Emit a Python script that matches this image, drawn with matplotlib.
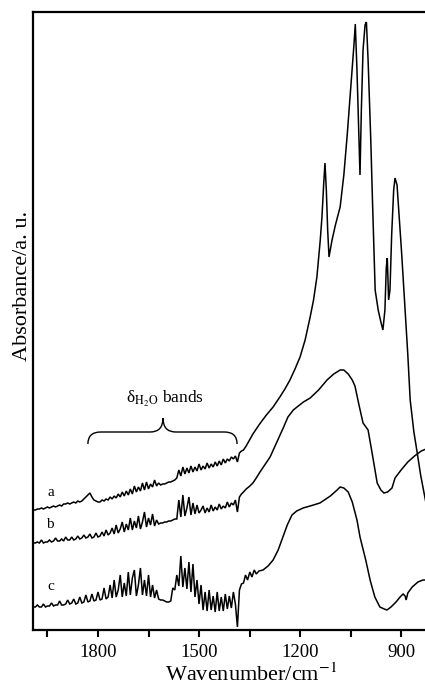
import numpy as np
import matplotlib
matplotlib.use("Agg")
import matplotlib.pyplot as plt
from matplotlib.path import Path
from matplotlib.patches import PathPatch

# ---------------- data ----------------
# sampling grid of the noisy (water-vapour) region, cm-1
wn_noisy = np.arange(1992, 1373, -6)

abs_a_noisy = [
    1.20, 1.20, 1.21, 1.21, 1.22, 1.21, 1.22, 1.23,
    1.22, 1.23, 1.24, 1.23, 1.24, 1.25, 1.24, 1.26,
    1.26, 1.27, 1.26, 1.27, 1.28, 1.27, 1.29, 1.28,
    1.29, 1.31, 1.33, 1.35, 1.37, 1.33, 1.30, 1.29,
    1.28, 1.28, 1.30, 1.29, 1.31, 1.30, 1.33, 1.31,
    1.34, 1.32, 1.36, 1.33, 1.38, 1.34, 1.39, 1.35,
    1.41, 1.36, 1.44, 1.38, 1.43, 1.39, 1.47, 1.40,
    1.48, 1.41, 1.46, 1.43, 1.50, 1.44, 1.47, 1.45,
    1.46, 1.46, 1.47, 1.48, 1.48, 1.49, 1.50, 1.52,
    1.60, 1.54, 1.63, 1.56, 1.62, 1.57, 1.64, 1.58,
    1.63, 1.59, 1.66, 1.60, 1.64, 1.61, 1.67, 1.62,
    1.66, 1.63, 1.68, 1.64, 1.69, 1.65, 1.71, 1.67,
    1.71, 1.69, 1.73, 1.71, 1.74, 1.68, 1.77, 1.79,
]
wn_a_tail = [1368, 1360, 1350, 1340, 1320, 1300, 1280, 1260, 1245, 1230,
             1215, 1200, 1185, 1170, 1160, 1150, 1140, 1135, 1130, 1126,
             1122, 1118, 1114, 1105, 1095, 1081, 1070, 1060, 1050, 1040,
             1036, 1031, 1026, 1022, 1018, 1013, 1007, 1003, 998, 990,
             985, 977, 968, 960, 954, 948, 944, 941, 937, 933,
             928, 922, 918, 912, 906, 898, 890, 880, 873, 862,
             852, 842, 832, 822]
abs_a_tail = [1.80, 1.84, 1.90, 1.96, 2.06, 2.15, 2.23, 2.33, 2.41, 2.50,
              2.61, 2.73, 2.90, 3.13, 3.30, 3.53, 3.90, 4.13, 4.45, 4.67,
              4.40, 4.00, 3.73, 3.90, 4.05, 4.23, 4.55, 4.95, 5.40, 5.85,
              6.06, 5.60, 5.00, 4.55, 5.20, 5.80, 6.05, 6.08, 5.70, 4.90,
              4.30, 3.40, 3.20, 3.08, 3.00, 3.20, 3.62, 3.72, 3.30, 3.40,
              3.95, 4.40, 4.52, 4.45, 4.15, 3.75, 3.30, 2.75, 2.30, 1.98,
              1.77, 1.55, 1.37, 1.20]

abs_b_noisy = [
    0.87, 0.87, 0.88, 0.87, 0.90, 0.87, 0.88, 0.88,
    0.90, 0.88, 0.89, 0.92, 0.89, 0.89, 0.91, 0.89,
    0.93, 0.90, 0.90, 0.93, 0.90, 0.91, 0.94, 0.91,
    0.92, 0.95, 0.92, 0.93, 0.96, 0.92, 0.93, 0.97,
    0.93, 0.94, 0.98, 0.94, 1.00, 0.95, 0.97, 1.02,
    0.96, 1.05, 0.97, 1.01, 1.08, 0.98, 1.06, 1.00,
    1.12, 1.00, 1.09, 1.02, 1.14, 1.01, 1.08, 1.18,
    1.03, 1.12, 1.05, 1.16, 1.04, 1.10, 1.06, 1.07,
    1.07, 1.08, 1.08, 1.09, 1.09, 1.10, 1.11, 1.11,
    1.30, 1.13, 1.35, 1.14, 1.22, 1.33, 1.15, 1.27,
    1.16, 1.25, 1.17, 1.20, 1.24, 1.17, 1.22, 1.18,
    1.25, 1.19, 1.23, 1.20, 1.26, 1.21, 1.24, 1.22,
    1.28, 1.23, 1.27, 1.25, 1.30, 1.18, 1.33, 1.36,
]
wn_b_tail = [1368, 1360, 1349, 1340, 1330, 1319, 1305, 1289, 1270, 1250,
             1236, 1220, 1209, 1190, 1170, 1145, 1120, 1100, 1081, 1070,
             1057, 1045, 1037, 1025, 1013, 998, 985, 971, 960, 951,
             940, 927, 918, 900, 880, 860, 840, 826]
abs_b_tail = [1.38, 1.41, 1.44, 1.47, 1.52, 1.58, 1.65, 1.73, 1.87, 2.02,
              2.13, 2.20, 2.23, 2.28, 2.32, 2.40, 2.50, 2.56, 2.60, 2.60,
              2.56, 2.50, 2.44, 2.25, 2.07, 2.00, 1.75, 1.47, 1.40, 1.37,
              1.38, 1.42, 1.52, 1.60, 1.68, 1.74, 1.79, 1.81]

abs_c_noisy = [
    0.23, 0.23, 0.25, 0.23, 0.23, 0.26, 0.23, 0.24,
    0.24, 0.27, 0.24, 0.25, 0.25, 0.29, 0.25, 0.25,
    0.26, 0.30, 0.26, 0.27, 0.31, 0.26, 0.27, 0.33,
    0.27, 0.28, 0.35, 0.28, 0.29, 0.36, 0.29, 0.30,
    0.38, 0.30, 0.31, 0.42, 0.31, 0.33, 0.45, 0.32,
    0.50, 0.33, 0.40, 0.55, 0.33, 0.47, 0.34, 0.58,
    0.35, 0.52, 0.60, 0.34, 0.45, 0.62, 0.35, 0.50,
    0.34, 0.55, 0.33, 0.45, 0.32, 0.40, 0.31, 0.30,
    0.30, 0.29, 0.28, 0.28, 0.29, 0.42, 0.40, 0.55,
    0.44, 0.74, 0.43, 0.62, 0.41, 0.68, 0.38, 0.66,
    0.33, 0.50, 0.26, 0.45, 0.20, 0.38, 0.19, 0.40,
    0.20, 0.34, 0.18, 0.38, 0.19, 0.33, 0.19, 0.36,
    0.21, 0.34, 0.22, 0.38, 0.26, 0.03, 0.40, 0.46,
]
wn_c_tail = [1368, 1362, 1356, 1349, 1343, 1336, 1330, 1322, 1310, 1295,
             1280, 1265, 1251, 1238, 1224, 1210, 1191, 1170, 1141, 1110,
             1090, 1081, 1070, 1057, 1045, 1031, 1022, 1005, 992, 978,
             963, 950, 942, 930, 915, 903, 894, 888, 885, 880,
             867, 850, 835, 826]
abs_c_tail = [0.47, 0.55, 0.50, 0.58, 0.53, 0.60, 0.56, 0.59, 0.60, 0.64,
              0.70, 0.80, 0.93, 1.05, 1.15, 1.19, 1.22, 1.24, 1.27, 1.34,
              1.40, 1.43, 1.42, 1.38, 1.28, 1.10, 0.93, 0.70, 0.50, 0.33,
              0.23, 0.21, 0.20, 0.23, 0.28, 0.33, 0.36, 0.34, 0.30, 0.37,
              0.43, 0.48, 0.50, 0.50]

curve_labels = ["a", "b", "c"]
label_wn = [1940, 1943, 1940]
label_abs = [1.38, 1.05, 0.43]

x_major = [1800, 1500, 1200, 900]
x_minor = [1950, 1650, 1350, 1050]

# ---------------- plot ----------------
plt.rcParams["font.family"] = ["Liberation Serif", "DejaVu Serif"]
plt.rcParams["mathtext.fontset"] = "stix"

fig = plt.figure(figsize=(4.25, 6.86), dpi=100)
ax = fig.add_axes([33 / 425, 56 / 686, 1 - 33 / 425, 618 / 686])

series = [
    (np.concatenate([wn_noisy, wn_a_tail]), abs_a_noisy + abs_a_tail),
    (np.concatenate([wn_noisy, wn_b_tail]), abs_b_noisy + abs_b_tail),
    (np.concatenate([wn_noisy, wn_c_tail]), abs_c_noisy + abs_c_tail),
]
for wn, ab in series:
    ax.plot(wn, ab, color="black", lw=1.1, solid_joinstyle="miter")

for lab, lx, ly in zip(curve_labels, label_wn, label_abs):
    ax.text(lx, ly, lab, ha="center", va="center", fontsize=11)

# brace for water bands
bx0, bx1, bxm = 1830, 1387, 1607
by_end, by_base, by_tip = 1.86, 1.98, 2.12
r = 38
verts = [(bx0, by_end), (bx0, by_base), (bx0 - r, by_base),
         (bxm + r, by_base),
         (bxm, by_base), (bxm, by_tip),
         (bxm, by_base), (bxm - r, by_base),
         (bx1 + r, by_base),
         (bx1, by_base), (bx1, by_end)]
codes = [Path.MOVETO, Path.CURVE3, Path.CURVE3,
         Path.LINETO,
         Path.CURVE3, Path.CURVE3,
         Path.CURVE3, Path.CURVE3,
         Path.LINETO,
         Path.CURVE3, Path.CURVE3]
ax.add_patch(PathPatch(Path(verts, codes), facecolor="none", edgecolor="black", lw=1.0))
ax.text(1601, 2.27, r"δ$_{\mathrm{H_2O}}$ bands", ha="center", va="baseline", fontsize=12.5)

ax.set_xlim(1993, 829)
ax.set_ylim(0, 6.18)
ax.set_yticks([])
ax.set_xticks(x_major)
ax.set_xticks(x_minor, minor=True)
ax.tick_params(axis="x", which="both", direction="out", length=5, width=1.5,
               labelsize=13.5, pad=5)
for s in ["left", "top", "bottom"]:
    ax.spines[s].set_linewidth(1.6)
ax.spines["right"].set_visible(False)

ax.set_xlabel(r"Wavenumber/cm$^{-1}$", fontsize=16)
ax.xaxis.set_label_coords(0.556, -0.055)
ax.set_ylabel("Absorbance/a. u.", fontsize=16)
ax.yaxis.set_label_coords(-0.003, 0.557)

fig.savefig("out.png", dpi=100)
